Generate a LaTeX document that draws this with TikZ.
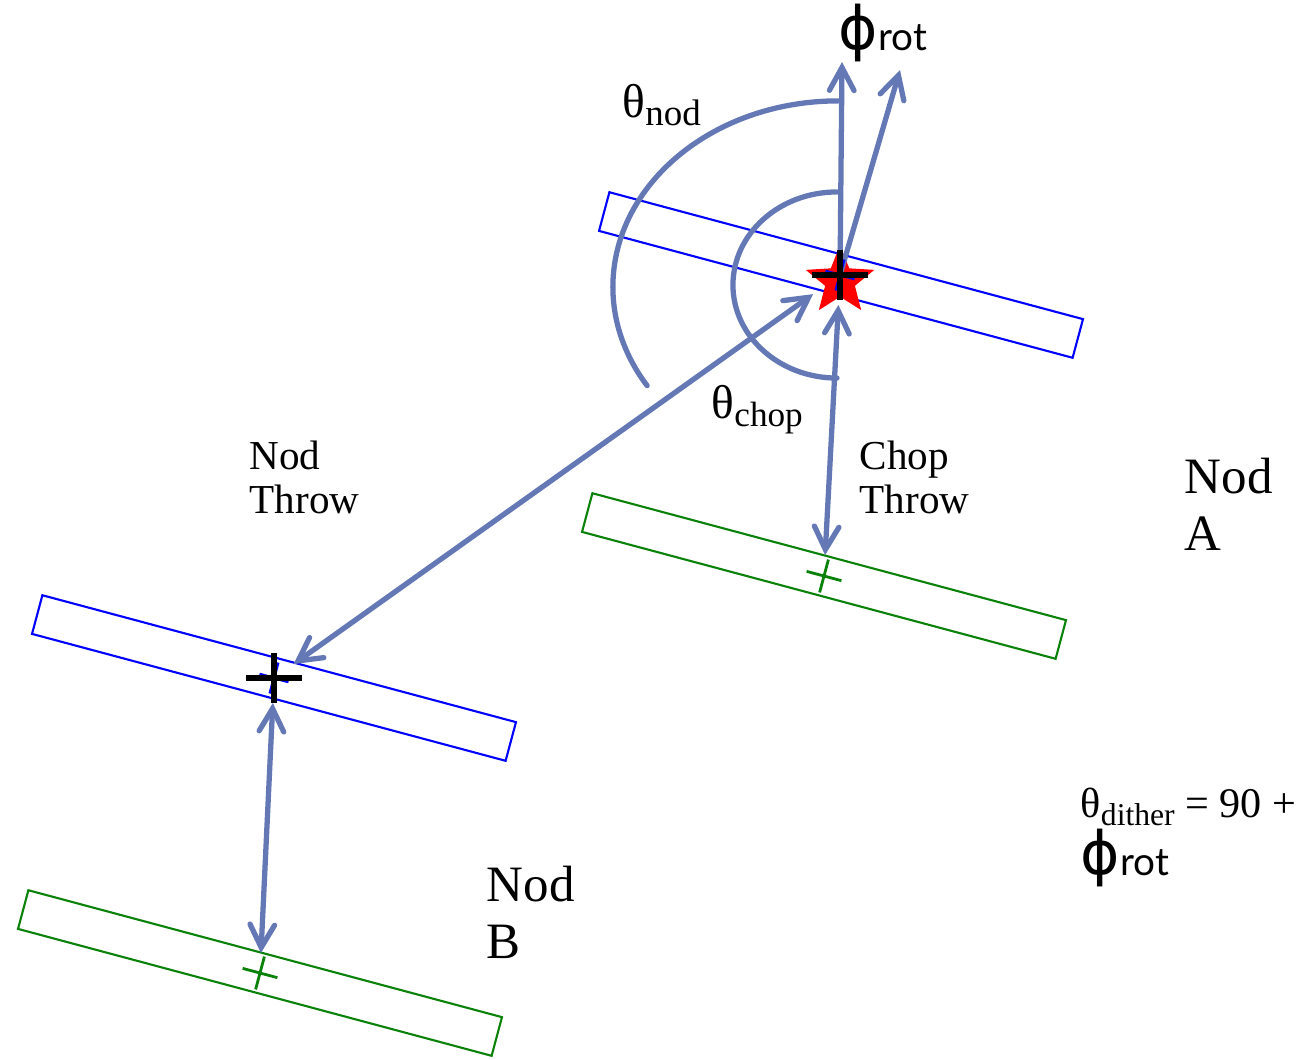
\documentclass[tikz,border=0pt]{standalone}
\usepackage{fontspec}
\setmainfont{Liberation Serif}
\newfontfamily\gillfont{Lato}
\newfontfamily\phifont{DejaVu Sans}
\usetikzlibrary{shapes.geometric, arrows.meta, positioning}
\definecolor{throwblue}{RGB}{100,120,182}
\definecolor{beamgreen}{RGB}{10,130,10}
\newcommand{\lowsub}[2][10]{\raisebox{-2.3pt}{\fontsize{#1}{11}\selectfont #2}}
\newcommand{\phirot}{{\phifont\fontsize{17}{18}\selectfont ϕ\gillfont\raisebox{-0.5pt}{\fontsize{11}{14}\selectfont rot}}}

\begin{document}
\begin{tikzpicture}[x=0.01cm, y=0.01cm,
    beam/.style={rectangle, line width=0.6pt, minimum width=4.9cm, minimum height=0.4cm, rotate=-15, inner sep=0pt},
    arr/.style={draw=throwblue, line width=1.5pt, line cap=round, -{Straight Barb[length=6.5pt, width=7pt, line cap=round]}},
    darr/.style={arr, {Straight Barb[length=6.5pt, width=7pt, line cap=round]}-{Straight Barb[length=6.5pt, width=7pt, line cap=round]}},
    angarc/.style={draw=throwblue, line width=1.5pt, line cap=round},
    lbl/.style={anchor=base west, inner sep=0pt, align=left}]

\useasboundingbox (0,0) rectangle (1304,1059);

% pivots
\coordinate (cA) at (840,784);
\coordinate (gA) at (824,483);
\coordinate (cB) at (274,381);
\coordinate (gB) at (260,86);
\coordinate (zen) at (842,997);
\coordinate (rotTip) at (900,989);
\coordinate (arcA) at (838,772);

% beams
\node[beam, draw=blue] (nodA) at (841,784) {};
\node[beam, draw=beamgreen] (chopA) at (gA) {};
\node[beam, draw=blue] (nodB) at (cB) {};
\node[beam, draw=beamgreen] (chopB) at (gB) {};

\node[star, star points=5, star point ratio=2.3, fill=red, minimum size=0.72cm, inner sep=0pt] (star) at (840,778) {};

% angle arcs
\draw[angarc] ([yshift=1.86cm]arcA) arc[start angle=90, end angle=212, x radius=2.25cm, y radius=1.86cm];
\draw[angarc] ([yshift=0.93cm]837,774) arc[start angle=90, end angle=270, x radius=1.04cm, y radius=0.93cm];

% throws
\draw[arr] (cA) -- (zen);
\draw[arr] (cA) -- (rotTip);
\draw[darr, shorten <=0.24cm, shorten >=0.33cm] (cB) -- (cA);
\draw[darr, shorten <=0.3cm, shorten >=0.21cm] (cA) -- (gA);
\draw[darr, shorten <=0.25cm, shorten >=0.2cm] (cB) -- (gB);

% crosses
\foreach \c in {cA, cB} {
  \draw[blue, line width=0.8pt] (\c) ++(-15:15) -- ++(165:30);
  \draw[blue, line width=0.8pt] (\c) ++(75:16) -- ++(255:32);
  \draw[line width=1.5pt] (\c) ++(-28,0) -- ++(56,0);
  \draw[line width=1.5pt] (\c) ++(0,25) -- ++(0,-50);
}
\foreach \c in {gA, gB} {
  \draw[beamgreen, line width=0.8pt] (\c) ++(-15:18) -- ++(165:36);
  \draw[beamgreen, line width=0.8pt] (\c) ++(75:17) -- ++(255:34);
}

% labels
\node[lbl] (phiTop) at (838,1010) {\phirot};
\node[lbl] (thNod) at (622,942) {\fontsize{13.5}{16}\selectfont θ\lowsub[10.5]{nod}};
\node[lbl] (thChop) at (711,641) {\fontsize{13.5}{16}\selectfont θ\lowsub{chop}};
\node[lbl, font=\fontsize{11.7}{12.5}\selectfont] (nodThrow) at (249,546) {Nod\\Throw};
\node[lbl, font=\fontsize{11.7}{12.5}\selectfont] (chopThrow) at (859,546) {Chop\\Throw};
\node[lbl, font=\fontsize{14.5}{16.2}\selectfont] (labA) at (1184,509) {Nod\\A};
\node[lbl, font=\fontsize{14.5}{16.2}\selectfont] (labB) at (486,101) {Nod\\B};
\node[lbl, font=\fontsize{12}{16.2}\selectfont] (dither) at (1080,185) {θ\lowsub[9]{dither} = 90 +\\\phirot};
\end{tikzpicture}
\end{document}
